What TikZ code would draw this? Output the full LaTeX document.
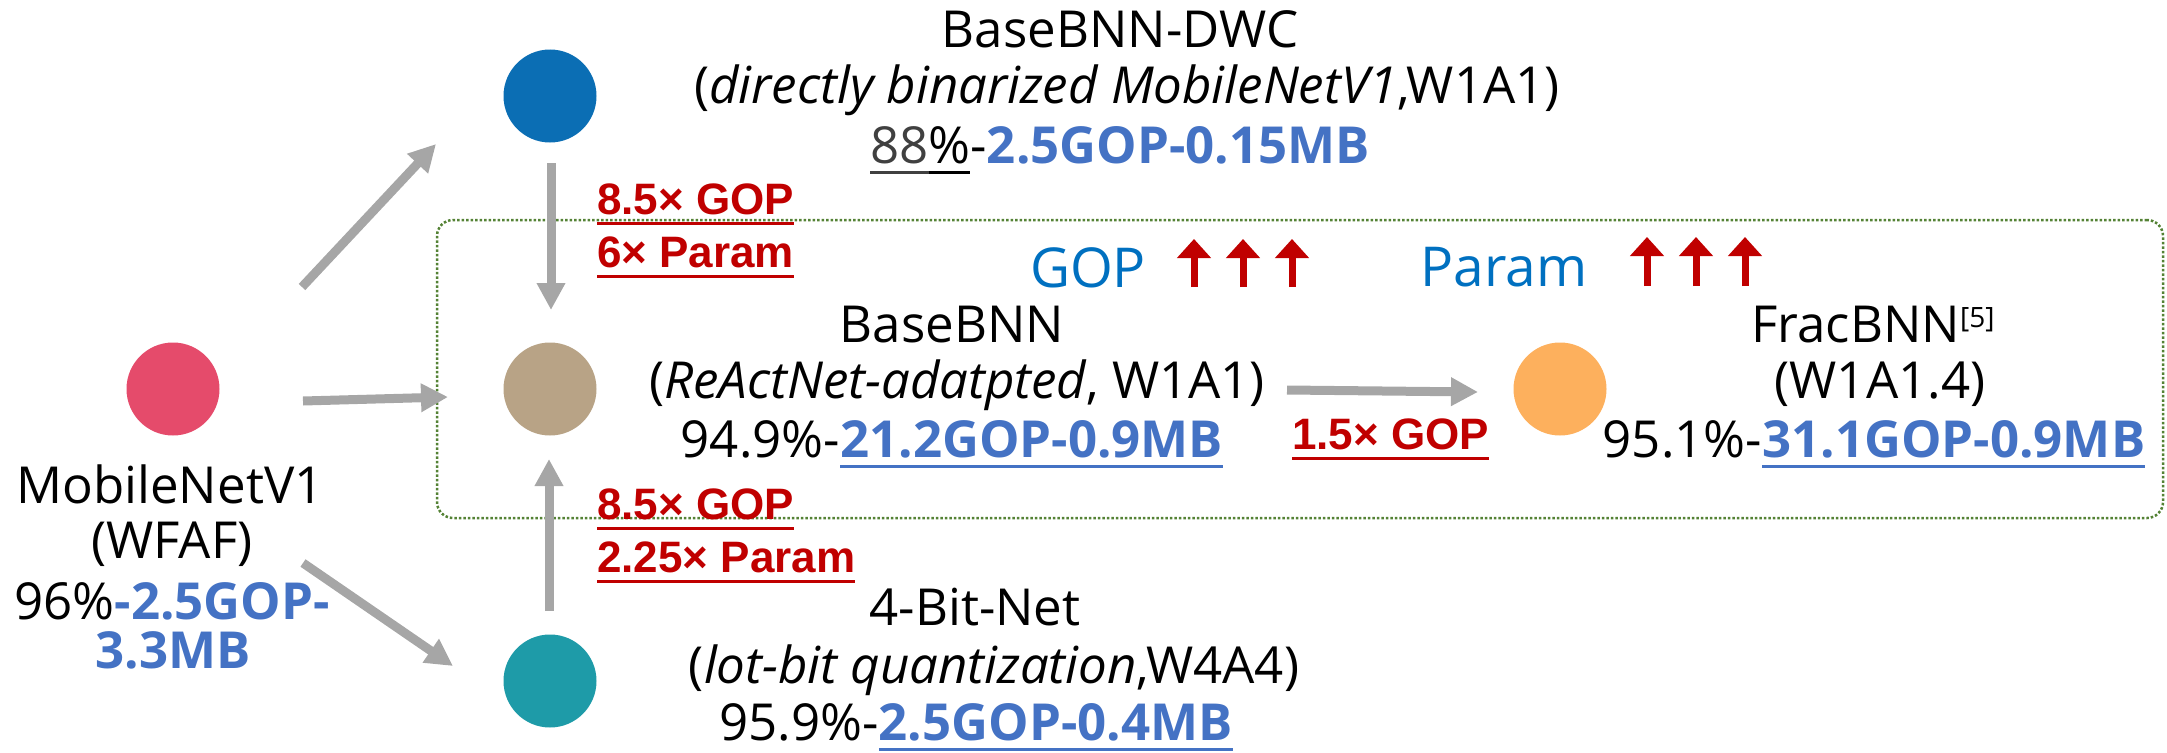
\documentclass[tikz,border=0pt]{standalone}
\usepackage{fontspec}
\setmainfont{Open Sans}
\newfontfamily\arialfont{Liberation Sans}
\usetikzlibrary{arrows.meta}
\definecolor{cpink}{HTML}{E54B6B}
\definecolor{cblue}{HTML}{0B6EB4}
\definecolor{ctan}{HTML}{B8A386}
\definecolor{cteal}{HTML}{1E9BA8}
\definecolor{corange}{HTML}{FDB05D}
\definecolor{cgray}{HTML}{A6A6A6}
\definecolor{cbtext}{HTML}{4472C4}
\definecolor{cgop}{HTML}{0070C0}
\definecolor{cred}{HTML}{C00000}
\definecolor{cgreen}{HTML}{548235}
\definecolor{cdgray}{HTML}{404040}
\newcommand{\ulx}[1]{\setbox0=\hbox{#1}\rlap{\vrule width\wd0 height -8pt depth 11pt}\box0}
\begin{document}
\begin{tikzpicture}[x=1pt,y=-1pt,
  dot/.style={circle, inner sep=0pt, minimum size=93pt},
  txt/.style={anchor=base, inner sep=0pt, font=\fontsize{51}{60}\selectfont},
  redlbl/.style={anchor=base west, inner sep=0pt, text=cred, font=\arialfont\bfseries\fontsize{44}{50}\selectfont},
  bluelbl/.style={anchor=base, inner sep=0pt, text=cgop, font=\fontsize{55}{55}\selectfont},
  garrow/.style={draw=cgray, line width=9pt, -{Triangle[length=27pt,width=27pt]}},
  uparrow/.style={draw=cred, line width=7pt, -{Triangle[length=19pt,width=33pt]}},
  grpbox/.style={draw=cgreen, line width=2.5pt, dash pattern=on 2.5pt off 2pt, rounded corners=16pt, inner sep=0pt}
]
\useasboundingbox (0,0) rectangle (2167,752);

% group box
\node[grpbox, minimum width=1726pt, minimum height=298pt] (grp) at (1300,369) {};

% circles
\node[dot, fill=cpink] (mob) at (173,389) {};
\node[dot, fill=cblue] (dwc) at (550,96) {};
\node[dot, fill=ctan] (base) at (550,389) {};
\node[dot, fill=cteal] (four) at (550,681) {};
\node[dot, fill=corange] (frac) at (1560,389) {};

% arrow end points
\coordinate (s1) at (302,287); \coordinate (e1) at (436,144);
\coordinate (s2) at (303,401); \coordinate (e2) at (448,397);
\coordinate (s3) at (303,563); \coordinate (e3) at (453,666);
\coordinate (s4) at (551,163); \coordinate (e4) at (551,310);
\coordinate (s5) at (549,611); \coordinate (e5) at (549,459);
\coordinate (s6) at (1287,390); \coordinate (e6) at (1478,392);
\draw[garrow] (s1) -- (e1);
\draw[garrow] (s2) -- (e2);
\draw[garrow] (s3) -- (e3);
\draw[garrow] (s4) -- (e4);
\draw[garrow] (s5) -- (e5);
\draw[garrow] (s6) -- (e6);

% BaseBNN-DWC
\node[txt] (dwcA) at (1120,48) {BaseBNN-DWC};
\node[txt] (dwcB) at (1127,103) {(\textit{directly binarized MobileNetV1},W1A1)};
\node[txt] (dwcC) at (1120,163) {{\color{cdgray}\ulx{88}}\ulx{\%}-\textbf{\color{cbtext}2.5GOP-0.15MB}};

% BaseBNN
\node[txt] (bA) at (952,342) {BaseBNN};
\node[txt] (bB) at (957,398) {(\textit{ReActNet-adatpted}, W1A1)};
\node[txt] (bC) at (952,457) {94.9\%-\textbf{\color{cbtext}\ulx{21.2GOP-0.9MB}}};

% FracBNN
\node[txt] (fA) at (1873,342) {FracBNN\raisebox{15pt}{\fontsize{28}{28}\selectfont[5]}};
\node[txt] (fB) at (1880,398) {(W1A1.4)};
\node[txt] (fC) at (1874,457) {95.1\%-\textbf{\color{cbtext}\ulx{31.1GOP-0.9MB}}};

% 4-Bit-Net
\node[txt] (nA) at (975,625) {4-Bit-Net};
\node[txt] (nB) at (994,683) {(\textit{lot-bit quantization},W4A4)};
\node[txt] (nC) at (976,740) {95.9\%-\textbf{\color{cbtext}\ulx{2.5GOP-0.4MB}}};

% MobileNetV1
\node[txt] (mA) at (170,503) {MobileNetV1};
\node[txt] (mB) at (172,558) {(WFAF)};
\node[txt] (mC) at (172,619) {96\%\textbf{\color{cbtext}-2.5GOP-}};
\node[txt] (mD) at (173,668) {\textbf{\color{cbtext}3.3MB}};

% red labels
\node[redlbl] (r1) at (597,214) {\ulx{8.5× GOP}};
\node[redlbl] (r2) at (597,267) {\ulx{6× Param}};
\node[redlbl] (r3) at (597,519) {\ulx{8.5× GOP}};
\node[redlbl] (r4) at (597,572) {\ulx{2.25× Param}};
\node[redlbl] (r5) at (1292,449) {\ulx{1.5× GOP}};

% GOP / Param
\node[bluelbl] (gop) at (1088,287) {GOP};
\node[bluelbl] (param) at (1504,286) {Param};
\foreach \x in {1194,1243,1292} \draw[uparrow] (\x,287) -- (\x,239);
\foreach \x in {1647,1696,1745} \draw[uparrow] (\x,286) -- (\x,237);
\end{tikzpicture}
\end{document}
